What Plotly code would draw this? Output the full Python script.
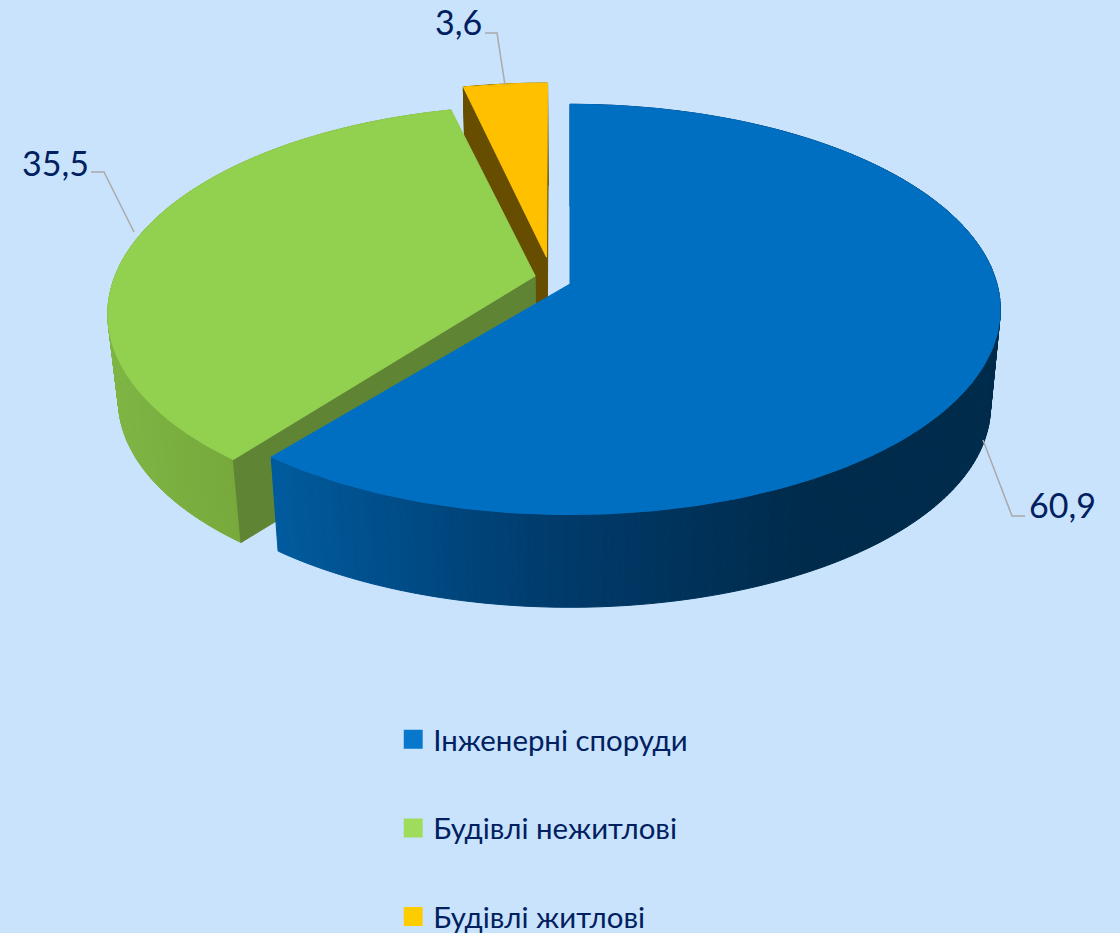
import numpy as np
import plotly.graph_objects as go

# ---- data ----
categories = ["Інженерні споруди", "Будівлі нежитлові", "Будівлі житлові"]
values = [60.9, 35.5, 3.6]
value_labels = ["60,9", "35,5", "3,6"]
top_colors = ["#006fc2", "#92d050", "#ffc000"]
legend_colors = ["#0878cc", "#a0dc5c", "#ffcc00"]
face_colors = [None, "#5f8534", "#664d00"]
wall_from = [["#005c9f", "#003c6e", "#002b4b"], ["#80b645", "#7ab040", "#78a93c"], ["#664d00", "#664d00", "#664d00"]]

BG = "#c9e3fc"
INK = "#002060"
LEADER = "#a9a9a9"

# ---- perspective model of the pie ----
X0, Y0, A, B, K = 570.0, 284.0, 427.0, 202.0, 0.124
Y0B, SCALE_B = 382.0, 0.977
arc_offset = [(0.0, 0.0), (-0.092, -0.01), (-0.06, 0.135)]
arc_scale = [1.0, 0.98, 1.0]
apex_offset = [(0.0, 0.0), (-0.082, 0.04), (-0.056, 0.135)]
bottom_shift = [0.0, -11.0, 0.0]


def proj(u, v, bottom=False, dy=0.0):
    w = 1 + K * v
    if bottom:
        return X0 + A * SCALE_B * u / w, Y0B + dy - B * SCALE_B * v / w
    return X0 + A * u / w, Y0 - B * v / w


def mix(stops, f):
    f = min(max(f, 0), 1) * (len(stops) - 1)
    i = min(int(f), len(stops) - 2)
    t = f - i
    a = [int(stops[i][j:j + 2], 16) for j in (1, 3, 5)]
    b = [int(stops[i + 1][j:j + 2], 16) for j in (1, 3, 5)]
    return "rgb(%d,%d,%d)" % tuple(round(a[k] + (b[k] - a[k]) * t) for k in range(3))


def poly(x, y, color):
    return go.Scatter(x=list(x) + [x[0]], y=list(y) + [y[0]], mode="lines", fill="toself",
                      fillcolor=color, line=dict(color=color, width=1),
                      hoverinfo="skip", showlegend=False)


fig = go.Figure()
edges = np.concatenate([[0], np.cumsum(values)]) / sum(values) * 2 * np.pi

for idx in [2, 1, 0]:  # far slices first
    t0, t1 = edges[idx], edges[idx + 1]
    th = np.linspace(t0, t1, 241)
    du, dv = arc_offset[idx]
    au, av = apex_offset[idx]
    u, v = arc_scale[idx] * np.sin(th) + du, np.cos(th) + dv
    dy = bottom_shift[idx]
    xt, yt = proj(u, v)
    xb, yb = proj(u, v, True, dy)
    ax, ay = proj(au, av)
    bx, by = proj(au, av, True, dy)
    # outer wall, drawn as narrow shaded strips
    step = 1
    for i in range(0, len(th) - step, step):
        j = i + step
        mid = 0.5 * (xb[i] + xb[j])
        if idx == 0:
            f = (mid - 273) / (800 - 273)
        elif idx == 1:
            f = (mid - 107) / (241 - 107)
        else:
            f = 0
        fig.add_trace(poly([xt[i], xt[j], xb[j], xb[i]], [yt[i], yt[j], yb[j], yb[i]], mix(wall_from[idx], f)))
    # radial inner face
    if idx == 1:
        fig.add_trace(poly([ax, xt[0], xb[0], bx], [ay, yt[0], yb[0], by], face_colors[1]))
    if idx == 2:
        fig.add_trace(poly([ax, xt[0], xb[0], bx], [ay, yt[0], yb[0], by], face_colors[2]))
        fig.add_trace(poly([ax, xt[-1], xb[-1], bx], [ay, yt[-1], yb[-1], by], face_colors[2]))
    # top face
    fig.add_trace(poly([ax] + list(xt), [ay] + list(yt), top_colors[idx]))

# leader lines
leader_x = [[983, 1012, 1025], [134, 104, 91], [505, 497, 485]]
leader_y = [[440, 516, 516], [232, 172, 172], [85, 33, 33]]
label_x = [1062, 55, 458]
label_y = [504, 162, 21]
for i in range(3):
    fig.add_trace(go.Scatter(x=leader_x[i], y=leader_y[i], mode="lines",
                             line=dict(color=LEADER, width=1.5), hoverinfo="skip", showlegend=False))
    fig.add_annotation(x=label_x[i], y=label_y[i], text=value_labels[i], showarrow=False,
                       font=dict(family="Lato", size=34, color=INK))

# legend entries
for i, name in enumerate(categories):
    fig.add_trace(go.Scatter(x=[None], y=[None], mode="markers", name=name, legendgroup=name,
                             marker=dict(symbol="square", size=16, color=legend_colors[i],
                                         line=dict(width=3, color=legend_colors[i]))))

fig.update_layout(
    width=1120, height=933, margin=dict(l=0, r=0, t=0, b=0, autoexpand=False),
    paper_bgcolor=BG, plot_bgcolor=BG,
    xaxis=dict(range=[0, 1120], visible=False, fixedrange=True),
    yaxis=dict(range=[933, 0], visible=False, fixedrange=True),
    legend=dict(x=0.36, y=0.2352, xanchor="left", yanchor="top", bgcolor="rgba(0,0,0,0)",
                traceorder="grouped", tracegroupgap=47.5, itemwidth=30, indentation=-10,
                font=dict(family="Lato", size=29.4, color=INK)),
)
fig.write_html("out.html", config=dict(displayModeBar=False),
               post_script="document.body.style.margin='0';document.body.style.background='%s';document.documentElement.style.overflow='hidden';" % BG)
